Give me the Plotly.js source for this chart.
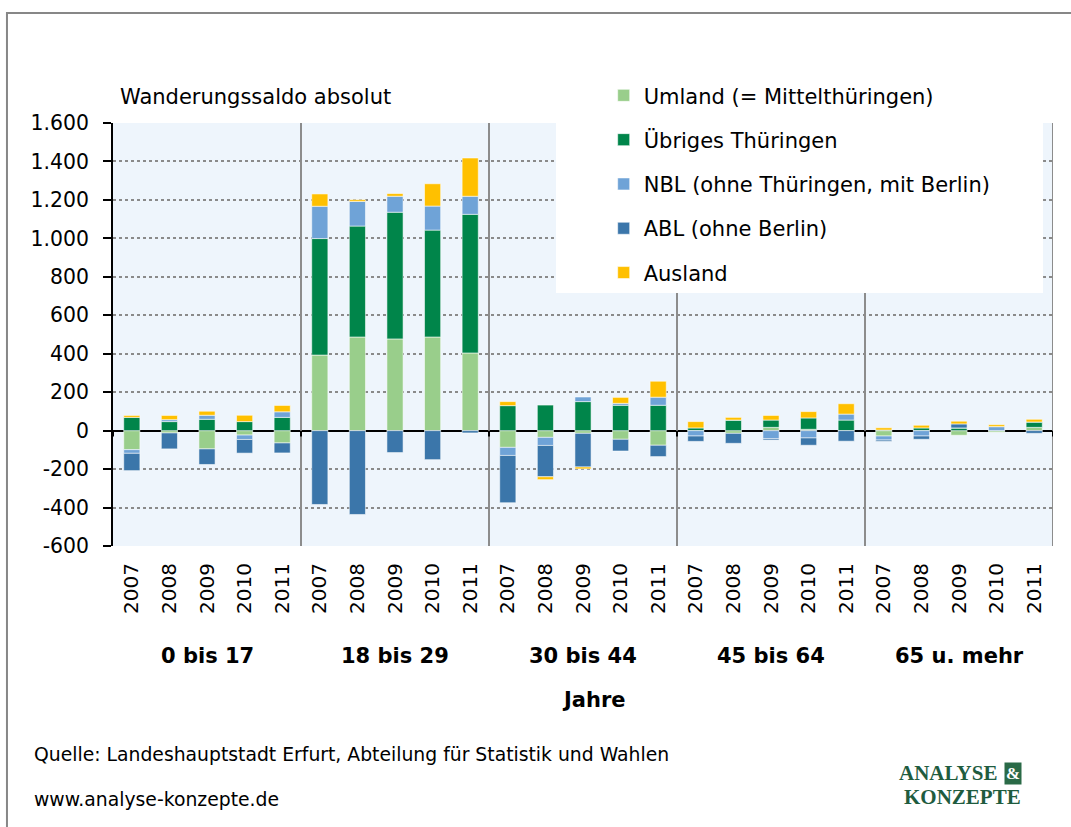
<!DOCTYPE html>
<html>
<head>
<meta charset="utf-8">
<script src="https://cdn.plot.ly/plotly-3.0.1.min.js"></script>
<style>html,body{margin:0;padding:0;background:#fff;}#chart{width:1071px;height:827px;}</style>
</head>
<body>
<div id="chart"></div>
<script>
// Categories
const ageGroups = ["0 bis 17", "18 bis 29", "30 bis 44", "45 bis 64", "65 u. mehr"];
const years = ["2007", "2008", "2009", "2010", "2011"];

// Series values (per age group, years 2007..2011)
const umland   = [-99, -12, -95, -23, -64,   393, 487, 477, 487, 404,   -87, -35, -14, -45, -76,   0, -14, 17, 7, 0,     -28, 0, -24, -8, 17];
const uebriges = [69, 47, 59, 47, 69,        606, 577, 659, 556, 721,   130, 133, 151, 132, 132,   14, 55, 38, 59, 55,   3, 14, 14, 0, 28];
const nbl      = [-19, 10, 21, -23, 29,      168, 128, 83, 125, 94,     -42, -42, 24, 10, 42,      -28, 0, -42, -38, 31, -21, -28, 0, 21, 0];
const abl      = [-90, -83, -81, -71, -52,   -384, -436, -114, -151, -12, -246, -163, -175, -61, -59, -28, -52, -7, -38, -55, -7, -17, 21, 0, -14];
const ausland  = [10, 22, 21, 33, 33,        64, 9, 14, 116, 199,       21, -15, -10, 31, 83,      33, 14, 24, 33, 54,   12, 14, 14, 10, 14];

const seriesNames = ["Umland (= Mittelthüringen)", "Übriges Thüringen", "NBL (ohne Thüringen, mit Berlin)", "ABL (ohne Berlin)", "Ausland"];
const seriesColors = ["#99CE8B", "#00854A", "#6FA3D7", "#3B76AA", "#FFC000"];
const seriesData = [umland, uebriges, nbl, abl, ausland];

// Tick labels
const yTickVals = [-600, -400, -200, 0, 200, 400, 600, 800, 1000, 1200, 1400, 1600];
const yTickText = ["-600", "-400", "-200", "0", "200", "400", "600", "800", "1.000", "1.200", "1.400", "1.600"];

const xIdx = [];
const xText = [];
ageGroups.forEach((g, gi) => years.forEach((y, yi) => { xIdx.push(gi * years.length + yi); xText.push(y); }));

const FONT = "DejaVu Sans, Verdana, sans-serif";

const traces = seriesData.map((vals, i) => ({
  type: "bar",
  x: xIdx,
  y: vals,
  name: seriesNames[i],
  legendgroup: "g" + i,
  marker: { color: seriesColors[i], line: { color: "rgba(255,255,255,0.55)", width: 1 } },
  hoverinfo: "name+y"
}));

const nG = ageGroups.length, nY = years.length;
const shapes = [];
// group separators
for (let g = 1; g <= nG; g++) {
  const xb = g * nY - 0.5;
  shapes.push({ type: "line", xref: "x", yref: "paper", x0: xb, x1: xb, y0: 0, y1: 1, line: { color: "#8C8C8C", width: 2 }, layer: "above" });
}
// white legend box
shapes.push({ type: "rect", xref: "paper", yref: "paper", x0: 0.4713, x1: 0.9894, y0: 0.598, y1: 1.2, fillcolor: "#FFFFFF", line: { width: 0 }, layer: "above" });
// small ticks on zero line at group boundaries
for (let g = 0; g <= nG; g++) {
  const xb = g * nY - 0.5;
  shapes.push({ type: "line", xref: "x", yref: "y", x0: xb, x1: xb, y0: 0, y1: -30, line: { color: "#000", width: 2 }, layer: "above" });
}
// outer frame
shapes.push({ type: "rect", xref: "paper", yref: "paper", x0: -0.1128, x1: 1.05, y0: -0.72, y1: 1.26, fillcolor: "rgba(0,0,0,0)", line: { color: "#878787", width: 2 }, layer: "above" });

const annotations = [];
ageGroups.forEach((g, gi) => {
  annotations.push({ text: "<b>" + g + "</b>", xref: "x", yref: "paper", x: gi * nY + 2, y: -0.26, showarrow: false, font: { family: FONT, size: 21, color: "#000" }, xanchor: "center", yanchor: "middle" });
});
annotations.push({ text: "<b>Jahre</b>", xref: "paper", yref: "paper", x: 0.512, y: -0.397, showarrow: false, font: { family: FONT, size: 21, color: "#000" } });
annotations.push({ text: "Wanderungssaldo absolut", xref: "paper", yref: "paper", x: 0.0053, y: 1.0615, xanchor: "left", yanchor: "middle", showarrow: false, font: { family: FONT, size: 21, color: "#000" } });
annotations.push({ text: "Quelle: Landeshauptstadt Erfurt, Abteilung für Statistik und Wahlen", xref: "paper", yref: "paper", x: -0.086, y: -0.494, xanchor: "left", yanchor: "middle", showarrow: false, font: { family: FONT, size: 18.8, color: "#000" } });
annotations.push({ text: "www.analyse-konzepte.de", xref: "paper", yref: "paper", x: -0.086, y: -0.600, xanchor: "left", yanchor: "middle", showarrow: false, font: { family: FONT, size: 18.8, color: "#000" } });
annotations.push({ text: "<b>ANALYSE</b>", xref: "paper", yref: "paper", x: 0.9425, y: -0.537, xanchor: "right", yanchor: "middle", showarrow: false, font: { family: "Liberation Serif, serif", size: 21, color: "#1F5C3F" } });
annotations.push({ text: "<b>&amp;</b>", xref: "paper", yref: "paper", x: 0.9575, y: -0.537, xanchor: "center", yanchor: "middle", showarrow: false, bgcolor: "#2A6A47", borderpad: 1, font: { family: "Liberation Serif, serif", size: 17, color: "#FFFFFF" } });
annotations.push({ text: "<b>KONZEPTE</b>", xref: "paper", yref: "paper", x: 0.968, y: -0.593, xanchor: "right", yanchor: "middle", showarrow: false, font: { family: "Liberation Serif, serif", size: 21, color: "#1F5C3F" } });

const layout = {
  width: 1071, height: 827,
  margin: { l: 113, r: 18, t: 123, b: 281, pad: 0 },
  paper_bgcolor: "#FFFFFF",
  plot_bgcolor: "#EEF5FC",
  separators: ",.",
  barmode: "relative",
  bargap: 0.57,
  font: { family: FONT, size: 20, color: "#000" },
  showlegend: true,
  legend: {
    x: 0.522, y: 1.113, xanchor: "left", yanchor: "top",
    bgcolor: "rgba(0,0,0,0)", traceorder: "grouped", tracegroupgap: 14,
    font: { family: FONT, size: 21, color: "#000" }
  },
  xaxis: {
    range: [-0.5, nG * nY - 0.5],
    tickmode: "array", tickvals: xIdx, ticktext: xText,
    tickangle: -90, ticks: "", showgrid: false, zeroline: false, showline: false,
    ticklabelstandoff: 12,
    tickfont: { family: FONT, size: 20, color: "#000" },
    fixedrange: true
  },
  yaxis: {
    range: [-600, 1600],
    tickmode: "array", tickvals: yTickVals, ticktext: yTickText,
    showgrid: true, gridcolor: "#8A8A8A", griddash: "dot", gridwidth: 2,
    zeroline: true, zerolinecolor: "#000", zerolinewidth: 2,
    showline: true, linecolor: "#000", linewidth: 2,
    ticks: "outside", ticklen: 8, tickwidth: 2, tickcolor: "#000",
    ticklabelstandoff: 10,
    tickfont: { family: FONT, size: 20.4, color: "#000" },
    fixedrange: true
  },
  shapes: shapes,
  annotations: annotations
};

Plotly.newPlot("chart", traces, layout, { displayModeBar: false, staticPlot: true });
</script>
</body>
</html>
